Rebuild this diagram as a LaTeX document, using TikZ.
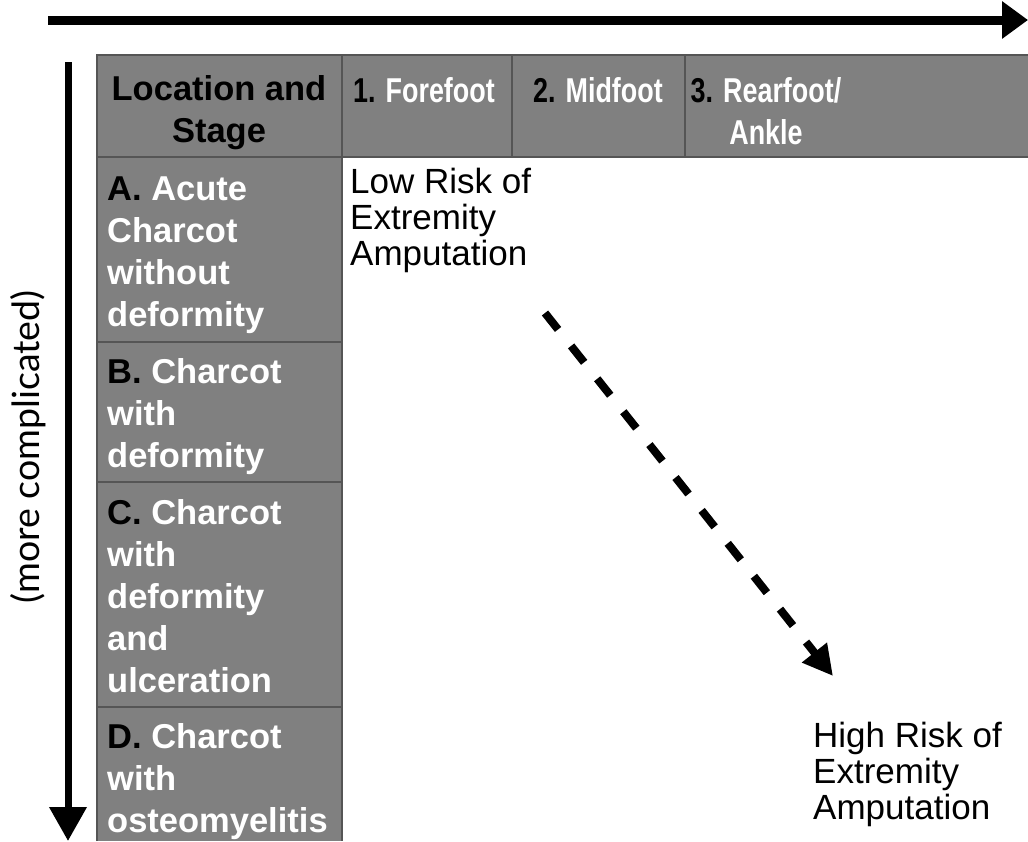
\documentclass[tikz,border=0pt]{standalone}
\usepackage{graphicx}
\usepackage{fontspec}
\setmainfont{Liberation Sans}
\newfontfamily\gillfont{Lato}
\usetikzlibrary{arrows.meta}
\definecolor{cellgray}{RGB}{128,128,128}
\definecolor{gridline}{RGB}{85,85,85}
\newcommand{\blk}[1]{{\color{black}#1}}
\newcommand{\narrow}[1]{\scalebox{0.78}[1]{#1}}
\begin{document}
\begin{tikzpicture}[x=1pt,y=-1pt,
  hdr/.style={font=\bfseries\fontsize{34.5}{42}\selectfont, text=white, inner sep=0pt, align=center, anchor=north},
  stagebox/.style={font=\bfseries\fontsize{34.5}{42}\selectfont, text=white, inner sep=0pt, align=left, anchor=north west},
  risk/.style={font=\fontsize{35}{36}\selectfont, text=black, inner sep=0pt, align=left, anchor=north west},
  grid/.style={draw=gridline, line width=2pt},
]
\useasboundingbox (0,0) rectangle (1028,841);
\fill[white] (0,0) rectangle (1028,841);

% table fills
\fill[cellgray] (97,55) rectangle (1028,157);
\fill[cellgray] (97,157) rectangle (342,841);
% grid lines
\draw[grid] (97,841) -- (97,55) -- (1028,55);
\draw[grid] (97,157) -- (1028,157);
\draw[grid] (342,55) -- (342,841);
\draw[grid] (512,55) -- (512,157);
\draw[grid] (685,55) -- (685,157);
\draw[grid] (97,342) -- (342,342);
\draw[grid] (97,482) -- (342,482);
\draw[grid] (97,707) -- (342,707);

% header texts
\node[hdr, text=black] (h0) at (219,68) {\rule{0pt}{32pt}Location and\\Stage};
\node[hdr] (h1) at (424,70) {\rule{0pt}{32pt}\narrow{\blk{1.} Forefoot}};
\node[hdr] (h2) at (598,70) {\rule{0pt}{32pt}\narrow{\blk{2.} Midfoot}};
\node[hdr] (h3) at (766,70) {\rule{0pt}{32pt}\narrow{\blk{3.} Rearfoot/}\\\narrow{Ankle}};

% stage texts
\node[stagebox] (sa) at (107,168) {\rule{0pt}{32pt}\blk{A.} Acute\\Charcot\\without\\deformity};
\node[stagebox] (sb) at (107,351) {\rule{0pt}{32pt}\blk{B.} Charcot\\with\\deformity};
\node[stagebox] (sc) at (107,492) {\rule{0pt}{32pt}\blk{C.} Charcot\\with\\deformity\\and\\ulceration};
\node[stagebox] (sd) at (107,716) {\rule{0pt}{32pt}\blk{D.} Charcot\\with\\osteomyelitis};

% risk texts
\node[risk] (lo) at (350,161) {\rule{0pt}{32pt}Low Risk of\\Extremity\\Amputation};
\node[risk] (hi) at (813,715) {\rule{0pt}{32pt}High Risk of\\Extremity\\Amputation};

% arrows
\coordinate (ts) at (48,20);
\coordinate (te) at (1028,20);
\draw[line width=9pt, -{Triangle[length=26pt,width=36pt]}] (ts) -- (te);

\coordinate (ls) at (68,62);
\coordinate (le) at (68,841);
\draw[line width=7pt, -{Triangle[length=34pt,width=36pt]}] (ls) -- (le);

\coordinate (ds) at (545,313);
\coordinate (de) at (833,676);
\draw[line width=8pt, dash pattern=on 21pt off 21pt, -{Triangle[length=30pt,width=30pt]}] (ds) -- (de);

\node[rotate=90, font=\gillfont\fontsize{37.5}{42}\selectfont, inner sep=0pt] (lbl) at (28,447) {(more complicated)};
\end{tikzpicture}
\end{document}
